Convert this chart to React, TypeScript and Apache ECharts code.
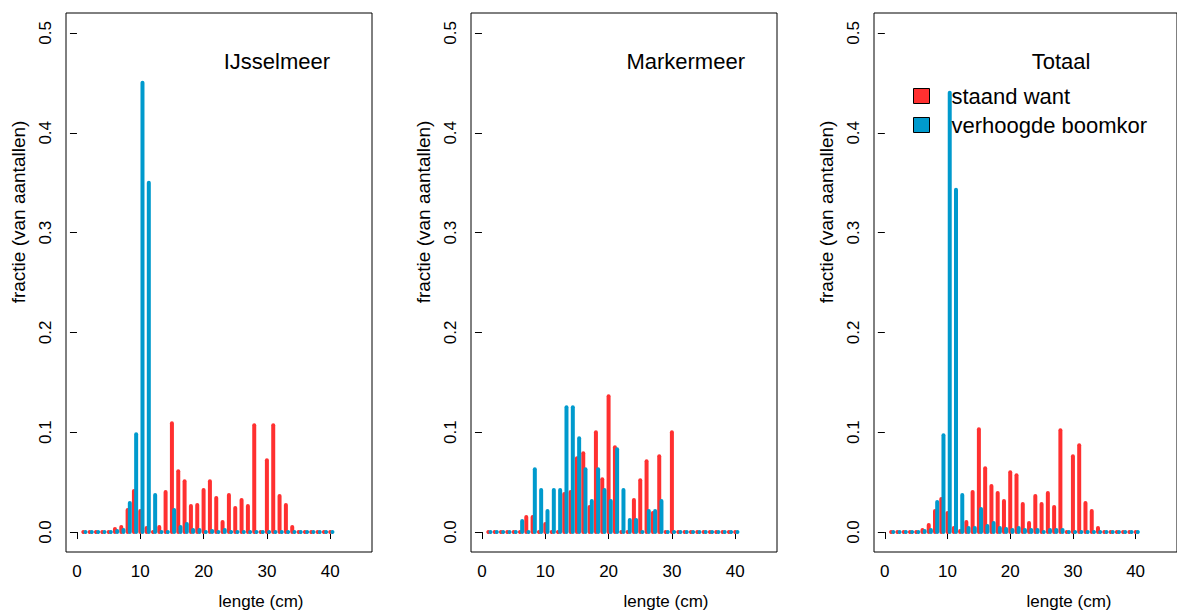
import React, { useEffect, useRef } from "react";
import * as echarts from "echarts";

// lengths (cm)
const lengths: number[] = Array.from({ length: 40 }, (_, i) => i + 1);

// fractions per length class 1..40
const ijsRed = [0, 0, 0, 0, 0, 0.003, 0.005, 0.022, 0.041, 0.021, 0.004, 0, 0.005, 0.04, 0.109, 0.061, 0.051, 0.026, 0.027, 0.042, 0.051, 0.034, 0.01, 0.037, 0.024, 0.032, 0.026, 0.107, 0, 0.072, 0.107, 0.036, 0.027, 0.005, 0, 0, 0, 0, 0, 0];
const ijsBlue = [0, 0, 0, 0, 0, 0.001, 0.002, 0.029, 0.098, 0.45, 0.35, 0.037, 0, 0, 0.022, 0.005, 0.008, 0.002, 0.002, 0, 0.001, 0, 0.002, 0, 0, 0, 0, 0, 0, 0, 0, 0, 0, 0, 0, 0, 0, 0, 0, 0];
const mmRed = [0, 0, 0, 0, 0, 0, 0.015, 0.015, 0, 0.008, 0, 0, 0.038, 0.04, 0.074, 0.079, 0.025, 0.1, 0.053, 0.136, 0.085, 0, 0, 0.032, 0.052, 0.071, 0.019, 0.076, 0, 0.1, 0, 0, 0, 0, 0, 0, 0, 0, 0, 0];
const mmBlue = [0, 0, 0, 0, 0, 0.011, 0, 0.063, 0.042, 0.021, 0.042, 0.042, 0.125, 0.125, 0.094, 0.063, 0.031, 0.063, 0.042, 0.031, 0.083, 0.042, 0.012, 0.012, 0, 0.021, 0.021, 0.031, 0, 0, 0, 0, 0, 0, 0, 0, 0, 0, 0, 0];
const totRed = [0, 0, 0, 0, 0, 0.002, 0.007, 0.021, 0.033, 0.019, 0.004, 0.001, 0.01, 0.04, 0.103, 0.064, 0.046, 0.039, 0.031, 0.06, 0.057, 0.028, 0.009, 0.036, 0.028, 0.039, 0.025, 0.102, 0, 0.076, 0.087, 0.029, 0.021, 0.004, 0, 0, 0, 0, 0, 0];
const totBlue = [0, 0, 0, 0, 0, 0.001, 0.002, 0.03, 0.097, 0.44, 0.343, 0.037, 0.004, 0.004, 0.023, 0.006, 0.009, 0.004, 0.003, 0.002, 0.004, 0.002, 0.002, 0.002, 0, 0.002, 0.002, 0.002, 0, 0, 0, 0, 0, 0, 0, 0, 0, 0, 0, 0];

const panelTitles = ["IJsselmeer", "Markermeer", "Totaal"];
const seriesNames = ["staand want", "verhoogde boomkor"];
const xTicks = [0, 10, 20, 30, 40];
const yTicks = [0, 0.1, 0.2, 0.3, 0.4, 0.5];
const xTitle = "lengte (cm)";
const yTitle = "fractie (van aantallen)";

const RED = "#FF3030";
const BLUE = "#009ACD";
const FONT = "'Liberation Sans', Arial, Helvetica, sans-serif";

export default function App() {
  const ref = useRef<HTMLDivElement>(null);
  useEffect(() => {
    if (!ref.current) return;
    const chart = echarts.init(ref.current, null, { renderer: "svg" });
    const panels = [
      [ijsRed, ijsBlue],
      [mmRed, mmBlue],
      [totRed, totBlue],
    ];
    const lefts = [66, 471, 874];
    const gw = 306;
    const grids = lefts.map((l) => ({
      left: l,
      top: 13,
      width: gw,
      height: 539,
      show: true,
      borderColor: "#000",
      borderWidth: 1,
      backgroundColor: "transparent",
    }));
    const xAxes = lefts.map((_, i) => ({
      type: "value",
      gridIndex: i,
      min: -1.73,
      max: 46.6,
      splitLine: { show: false },
      axisLine: { show: false },
      axisTick: { show: true, length: 7, lineStyle: { color: "#000" }, customValues: xTicks },
      axisLabel: {
        customValues: xTicks,
        margin: 11,
        fontSize: 17,
        color: "#000",
        fontFamily: FONT,
      },
    }));
    const yAxes = lefts.map((_, i) => ({
      type: "value",
      gridIndex: i,
      min: -0.02,
      max: 0.52,
      splitLine: { show: false },
      axisLine: { show: false },
      axisTick: { show: true, length: 7, lineStyle: { color: "#000" }, customValues: yTicks },
      axisLabel: {
        customValues: yTicks,
        rotate: 90,
        margin: 12,
        fontSize: 17,
        color: "#000",
        fontFamily: FONT,
        formatter: (v: number) => v.toFixed(1),
      },
    }));
    const makeRender = (color: string) => (params: any, api: any) => {
      const x = api.value(0);
      const v = api.value(1);
      const p0 = api.coord([x, 0]);
      const p1 = api.coord([x, v]);
      if (!v) {
        return { type: "circle", shape: { cx: p0[0], cy: p0[1], r: 2 }, style: { fill: color } };
      }
      return {
        type: "line",
        shape: { x1: p0[0], y1: p0[1], x2: p1[0], y2: p1[1] },
        style: { stroke: color, lineWidth: 4, lineCap: "round" },
      };
    };
    const series: any[] = [];
    panels.forEach((pair, i) => {
      [RED, BLUE].forEach((color, k) => {
        const off = k === 0 ? 0 : 0.35;
        series.push({
          type: "custom",
          name: seriesNames[k],
          xAxisIndex: i,
          yAxisIndex: i,
          itemStyle: { color },
          encode: { x: 0, y: 1 },
          renderItem: makeRender(color),
          data: lengths.map((L, j) => [L + off, pair[k][j]]),
        });
      });
    });
    const titleRight = [330, 745, null];
    const graphics: any[] = [];
    panelTitles.forEach((t, i) => {
      graphics.push({
        type: "text",
        x: i === 2 ? 1061 : (titleRight[i] as number),
        y: 61,
        style: {
          text: t,
          fontSize: 22,
          fontFamily: FONT,
          fill: "#000",
          align: i === 2 ? "center" : "right",
          verticalAlign: "middle",
        },
      });
      graphics.push({
        type: "text",
        x: lefts[i] + 195,
        y: 601,
        style: { text: xTitle, fontSize: 17, fontFamily: FONT, fill: "#000", align: "center", verticalAlign: "middle" },
      });
      graphics.push({
        type: "text",
        x: lefts[i] - 48,
        y: 212,
        rotation: Math.PI / 2,
        style: { text: yTitle, fontSize: 19, fontFamily: FONT, fill: "#000", align: "center", verticalAlign: "middle" },
      });
    });
    chart.setOption({
      animation: false,
      backgroundColor: "#fff",
      grid: grids,
      xAxis: xAxes,
      yAxis: yAxes,
      legend: {
        data: seriesNames.map((n, k) => ({
          name: n,
          icon: "rect",
          itemStyle: { color: k === 0 ? RED : BLUE, borderColor: "#000", borderWidth: 1 },
        })),
        orient: "vertical",
        left: 913,
        top: 84,
        padding: 0,
        itemWidth: 16,
        itemHeight: 15,
        itemGap: 5,
        selectedMode: false,
        textStyle: { fontSize: 22, lineHeight: 24, fontFamily: FONT, color: "#000", padding: [0, 0, 0, 17] },
      },
      graphic: graphics,
      series,
    });
    return () => chart.dispose();
  }, []);
  return <div ref={ref} style={{ position: "fixed", left: 0, top: 0, width: 1177, height: 613 }} />;
}
